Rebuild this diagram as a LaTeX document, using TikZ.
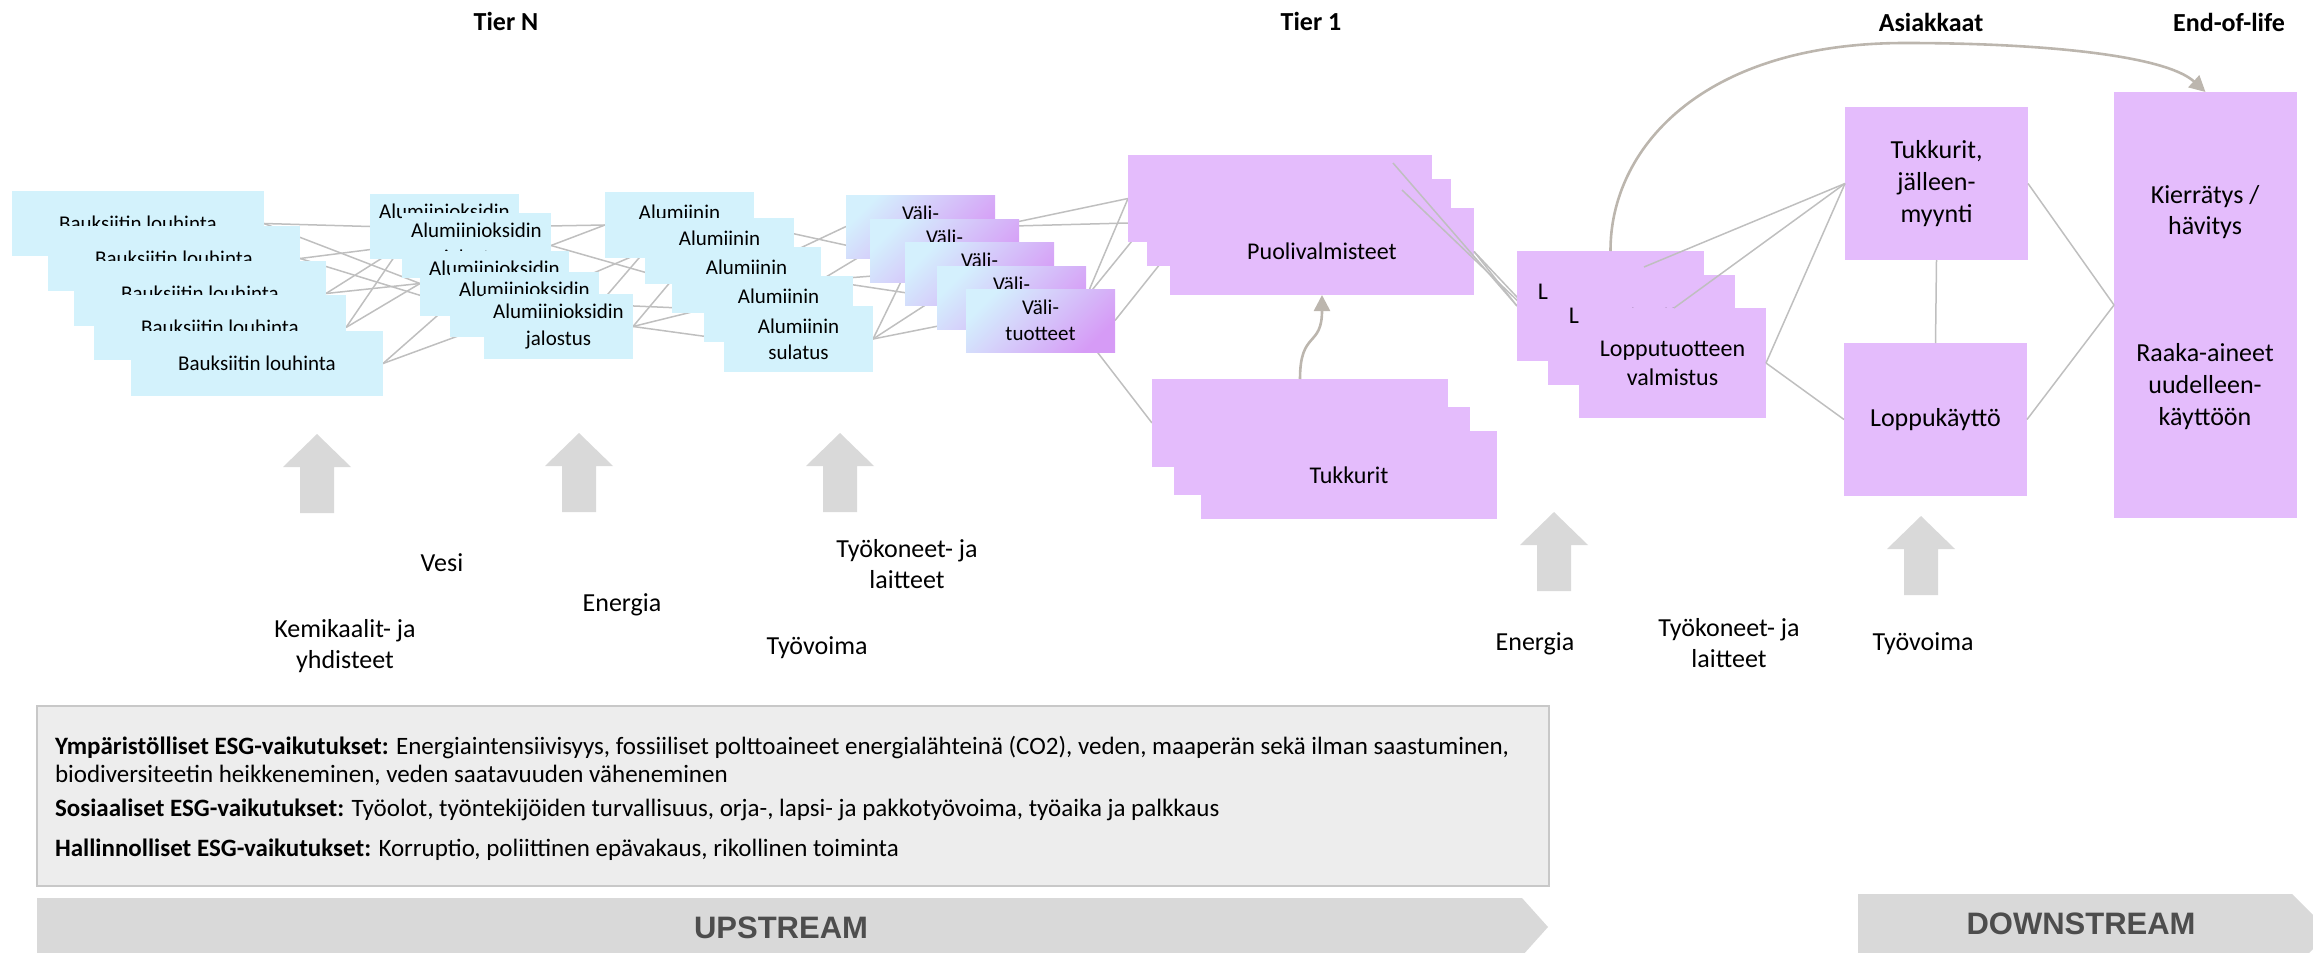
\documentclass[tikz,border=0pt]{standalone}
\usepackage{fontspec}
\setmainfont{Carlito}
\newfontfamily\streamfont{Liberation Sans}
\usetikzlibrary{arrows.meta}
\definecolor{lblue}{RGB}{211,242,252}
\definecolor{purp}{RGB}{228,188,252}
\definecolor{vtop}{RGB}{212,240,253}
\definecolor{vbot}{RGB}{214,155,246}
\definecolor{lgray}{RGB}{191,191,191}
\definecolor{cgray}{RGB}{188,182,174}
\definecolor{agray}{RGB}{217,217,217}
\definecolor{sgray}{RGB}{217,217,217}
\definecolor{stxt}{RGB}{77,77,77}
\definecolor{esgfill}{RGB}{237,237,237}
\definecolor{esgline}{RGB}{200,200,200}
\pgfdeclarelayer{bg}
\pgfdeclarelayer{mid}
\pgfsetlayers{bg,mid,main}
\begin{document}
\begin{tikzpicture}[x=0.5pt,y=-0.5pt,
  every node/.style={inner sep=0pt,outer sep=0pt},
  box/.style={anchor=north west, align=center},
  bluebox/.style={box, fill=lblue, font=\fontsize{10.5pt}{13pt}\selectfont},
  baux/.style={bluebox, minimum width=126pt, minimum height=32.5pt},
  alox/.style={bluebox, minimum width=74.5pt, minimum height=32.5pt, font=\fontsize{10.5pt}{13.5pt}\selectfont},
  alum/.style={bluebox, minimum width=74.5pt, minimum height=33pt},
  vali/.style={box, minimum width=74.5pt, minimum height=31.5pt, top color=vtop, bottom color=vbot, shading angle=45, font=\fontsize{10.5pt}{13pt}\selectfont},
  purpbox/.style={box, fill=purp},
  puol/.style={purpbox, minimum width=152pt, minimum height=43.5pt, font=\fontsize{12pt}{14.5pt}\selectfont},
  tukk/.style={purpbox, minimum width=148pt, minimum height=44pt, font=\fontsize{12pt}{14.5pt}\selectfont},
  lopp/.style={purpbox, minimum width=93.5pt, minimum height=55pt, font=\fontsize{12pt}{14.5pt}\selectfont},
  dsbox/.style={purpbox, minimum width=91.5pt, minimum height=76.5pt, font=\fontsize{13pt}{16pt}\selectfont},
  kier/.style={purpbox, minimum width=91.5pt, minimum height=213pt},
  conn/.style={draw=lgray, line width=0.75pt},
  curve/.style={draw=cgray, line width=1.3pt, -{Triangle[length=8pt,width=8pt]}},
  lbl/.style={align=center, font=\fontsize{13pt}{15.5pt}\selectfont},
  tier/.style={font=\fontsize{13pt}{15.5pt}\selectfont\bfseries},
  esg/.style={anchor=west, font=\fontsize{12.5pt}{14pt}\selectfont},
  stream/.style={fill=sgray},
  streamtxt/.style={text=stxt, font=\streamfont\fontsize{15.5pt}{18pt}\selectfont\bfseries},
  arrfill/.style={fill=agray},
  uparr/.pic={\fill[arrfill] (0,0) -- (34,33) -- (17,33) -- (17,79) -- (-17,79) -- (-17,33) -- (-34,33) -- cycle;}
]
\useasboundingbox (0,0) rectangle (2313,953);

% tier labels
\node[tier] (tN) at (506,21) {Tier N};
\node[tier] (t1lbl) at (1311,21) {Tier 1};
\node[tier] (asi) at (1931,22) {Asiakkaat};
\node[tier] (eol) at (2229,22) {End-of-life};

% Bauksiitin
\node[baux] (b1) at (12,191) {Bauksiitin louhinta};
\node[baux] (b2) at (48,226) {Bauksiitin louhinta};
\node[baux] (b3) at (74,261) {Bauksiitin louhinta};
\node[baux] (b4) at (94,295) {Bauksiitin louhinta};
\node[baux] (b5) at (131,331) {Bauksiitin louhinta};
% Alumiinioksidin
\node[alox] (a1) at (370,194) {Alumiinioksidin\\jalostus};
\node[alox] (a2) at (402,213) {Alumiinioksidin\\jalostus};
\node[alox] (a3) at (420,251) {Alumiinioksidin\\jalostus};
\node[alox] (a4) at (450,272) {Alumiinioksidin\\jalostus};
\node[alox] (a5) at (484,294) {Alumiinioksidin\\jalostus};
% Alumiinin
\node[alum] (m1) at (605,192) {Alumiinin\\sulatus};
\node[alum] (m2) at (645,218) {Alumiinin\\sulatus};
\node[alum] (m3) at (672,247) {Alumiinin\\sulatus};
\node[alum] (m4) at (704,276) {Alumiinin\\sulatus};
\node[alum] (m5) at (724,306) {Alumiinin\\sulatus};
% Vali-tuotteet
\node[vali] (v1) at (846,195) {Väli-\\tuotteet};
\node[vali] (v2) at (870,219) {Väli-\\tuotteet};
\node[vali] (v3) at (905,242) {Väli-\\tuotteet};
\node[vali] (v4) at (937,266) {Väli-\\tuotteet};
\node[vali] (v5) at (966,289) {Väli-\\tuotteet};

\begin{pgfonlayer}{mid}
\node[puol] (p1) at (1128,155) {Puolivalmisteet};
\node[puol] (p2) at (1147,179) {Puolivalmisteet};
\node[puol] (p3) at (1170,208) {Puolivalmisteet};
\node[tukk] (t1) at (1152,379) {Tukkurit};
\node[tukk] (t2) at (1174,407) {Tukkurit};
\node[tukk] (t3) at (1201,431) {Tukkurit};
\end{pgfonlayer}

% network lines behind boxes
\begin{pgfonlayer}{bg}
\draw[conn] (b1.east) -- (a1.west);
\draw[conn] (b1.east) -- (a3.west);
\draw[conn] (b2.east) -- (a2.west);
\draw[conn] (b2.east) -- (a4.west);
\draw[conn] (b3.east) -- (a2.west);
\draw[conn] (b3.east) -- (a3.west);
\draw[conn] (b4.east) -- (a2.west);
\draw[conn] (b4.east) -- (a3.west);
\draw[conn] (b5.east) -- (a4.west);
\draw[conn] (b5.east) -- (a5.west);
\draw[conn] (a1.east) -- (m1.west);
\draw[conn] (a2.east) -- (m1.west);
\draw[conn] (a2.east) -- (m3.west);
\draw[conn] (a3.east) -- (m2.west);
\draw[conn] (a4.east) -- (m2.west);
\draw[conn] (a4.east) -- (m4.west);
\draw[conn] (a5.east) -- (m3.west);
\draw[conn] (a5.east) -- (m4.west);
\draw[conn] (a5.east) -- (m5.west);
\draw[conn] (m1.east) -- (v2.west);
\draw[conn] (m2.east) -- (v1.west);
\draw[conn] (m3.east) -- (v2.west);
\draw[conn] (m3.east) -- (v3.west);
\draw[conn] (m3.east) -- (v4.west);
\draw[conn] (m5.east) -- (v3.west);
\draw[conn] (m5.east) -- (v4.west);
\draw[conn] (m5.east) -- (v5.west);
\draw[conn] (v1.east) -- (p1.west);
\draw[conn] (v1.east) -- (p2.west);
\draw[conn] (v4.east) -- (p1.west);
\draw[conn] (v4.east) -- (p2.west);
\draw[conn] (v5.east) -- (p3.west);
\draw[conn] (v2.east) -- (t1.west);
\end{pgfonlayer}

% Lopputuotteen
\node[lopp] (l1) at (1517,251) {Lopputuotteen\\valmistus};
\node[lopp] (l2) at (1548,275) {Lopputuotteen\\valmistus};
\node[lopp] (l3) at (1579,308) {Lopputuotteen\\valmistus};

% downstream boxes
\node[dsbox] (tj) at (1845,107) {Tukkurit,\\jälleen-\\myynti};
\node[dsbox] (lk) at (1844,343) {Loppukäyttö};
\node[kier] (kr) at (2114,92) {};
\node[lbl] (kr1) at (2205,212) {Kierrätys /\\hävitys};
\node[lbl, font=\fontsize{13pt}{16pt}\selectfont] (kr2) at (2205,387) {Raaka-aineet\\uudelleen-\\käyttöön};

% P -> L lines (above P boxes, below L boxes)
\coordinate (c1) at (1393,163);
\coordinate (c2) at (1402,190);
\begin{pgfonlayer}{mid}
\draw[conn] (c1) -- (l1.west);
\draw[conn] (c2) -- (l2.west);
\draw[conn] (p3.east) -- (l1.west);
\draw[conn] (p3.east) -- (l2.west);
\end{pgfonlayer}

% L -> downstream lines
\coordinate (c3) at (1644,267);
\coordinate (c4) at (1674,308);
\draw[conn] (c3) -- (tj.west);
\draw[conn] (c4) -- (tj.west);
\draw[conn] (l3.east) -- (tj.west);
\draw[conn] (l3.east) -- (lk.west);
\draw[conn] (tj.south) -- (lk.north);
\draw[conn] (tj.east) -- (kr.west);
\draw[conn] (lk.east) -- (kr.west);

% curved arrows
\draw[curve] (t1.north) .. controls (1300,330) and (1322,348) .. (p3.south);
\draw[curve] (l1.north) .. controls (1610,150) and (1700,43) .. (1905,43) .. controls (2040,43) and (2165,55) .. (kr.north);

% up arrows
\pic at (317,434) {uparr};
\pic at (579,433) {uparr};
\pic at (840,433) {uparr};
\pic at (1554,512) {uparr};
\pic at (1921,516) {uparr};

% input labels
\node[lbl] (vesi) at (442,563) {Vesi};
\node[lbl] (ener1) at (622,605) {Energia};
\node[lbl] (kemi) at (345,646) {Kemikaalit- ja\\yhdisteet};
\node[lbl] (tyok1) at (907,564) {Työkoneet- ja\\laitteet};
\node[lbl] (tyov1) at (817,648) {Työvoima};
\node[lbl] (ener2) at (1535,644) {Energia};
\node[lbl] (tyok2) at (1729,643) {Työkoneet- ja\\laitteet};
\node[lbl] (tyov2) at (1923,644) {Työvoima};

% ESG box
\draw[fill=esgfill, draw=esgline, line width=1.3pt] (37,706) rectangle (1549,886);
\node[esg] (e1) at (55,747) {\textbf{Ympäristölliset ESG-vaikutukset:} Energiaintensiivisyys, fossiiliset polttoaineet energialähteinä (CO2), veden, maaperän sekä ilman saastuminen,};
\node[esg] (e2) at (55,775) {biodiversiteetin heikkeneminen, veden saatavuuden väheneminen};
\node[esg] (e3) at (55,810) {\textbf{Sosiaaliset ESG-vaikutukset:} Työolot, työntekijöiden turvallisuus, orja-, lapsi- ja pakkotyövoima, työaika ja palkkaus};
\node[esg] (e4) at (55,850) {\textbf{Hallinnolliset ESG-vaikutukset:} Korruptio, poliittinen epävakaus, rikollinen toiminta};

% stream arrows
\fill[stream] (37,898) -- (1522,898) -- (1548,927) -- (1522,956) -- (37,956) -- cycle;
\node[streamtxt] (up) at (781,928) {UPSTREAM};
\fill[stream] (1858,894) -- (2292,894) -- (2330,932) -- (2292,970) -- (1858,970) -- cycle;
\node[streamtxt] (down) at (2081,924) {DOWNSTREAM};
\end{tikzpicture}
\end{document}
